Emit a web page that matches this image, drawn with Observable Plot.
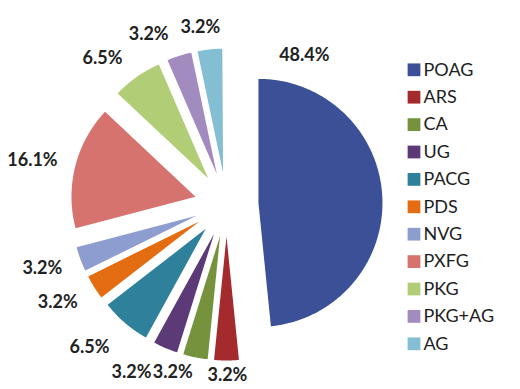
<!DOCTYPE html>
<html>
<head>
<meta charset="utf-8">
<script src="https://cdn.jsdelivr.net/npm/d3@7"></script>
<script src="https://cdn.jsdelivr.net/npm/@observablehq/plot@0.6"></script>
<style>
  html, body { margin: 0; padding: 0; background: #fff; }
  #chart { width: 520px; height: 389px; }
</style>
</head>
<body>
<div id="chart"></div>
<script>
// ---- data ----
const categories = ["POAG", "ARS", "CA", "UG", "PACG", "PDS", "NVG", "PXFG", "PKG", "PKG+AG", "AG"];
const percents   = [48.4, 3.2, 3.2, 3.2, 6.5, 3.2, 3.2, 16.1, 6.5, 3.2, 3.2];
const labels     = ["48.4%", "3.2%", "3.2%", "3.2%", "6.5%", "3.2%", "3.2%", "16.1%", "6.5%", "3.2%", "3.2%"];

// ---- style / layout ----
const colors = ["#3B5096", "#A52A2D", "#76923C", "#5C3A78", "#2F809A", "#E46C12", "#8E9DCF", "#D6736F", "#B1CD76", "#A28BBE", "#84BED3"];
const W = 520, H = 389;
const CX = 226, CY = 204;           // pie centre in pixels
const R = 124, EXPLODE = 32;        // radius and explode offset
// label placement (polar around centre): angle in degrees clockwise from top, radius in px
const labelAngle  = [27.6, 179.7, 197.8, 209.5, 223.8, 239.9, 250.8, 282.8, 319.8, 335.4, 351.6];
const labelRadius = [168, 171, 176, 193, 198, 195, 195, 199, 192, 187, 179];
const legendX = 413.5, legendTextX = 423, legendTop = 69.3, legendStep = 27.4;

// data coordinates: origin at pie centre, y up
const px = (x) => x - CX;
const py = (y) => CY - y;
const toRad = Math.PI / 180;

const total = d3.sum(percents);
const arcs = d3.pie().sort(null).value(d => d)
  .startAngle(0).endAngle(2 * Math.PI * total / 100)(percents);

// slice outlines
const slicePts = [];
arcs.forEach((a, i) => {
  const mid = (a.startAngle + a.endAngle) / 2;
  const ox = EXPLODE * Math.sin(mid), oy = EXPLODE * Math.cos(mid);
  slicePts.push({cat: categories[i], x: ox, y: oy});
  const steps = Math.max(2, Math.ceil((a.endAngle - a.startAngle) / (0.5 * toRad)));
  for (let k = 0; k <= steps; k++) {
    const t = a.startAngle + (a.endAngle - a.startAngle) * k / steps;
    slicePts.push({cat: categories[i], x: ox + R * Math.sin(t), y: oy + R * Math.cos(t)});
  }
});

const labelData = categories.map((c, i) => ({
  cat: c,
  text: labels[i],
  x: labelRadius[i] * Math.sin(labelAngle[i] * toRad),
  y: labelRadius[i] * Math.cos(labelAngle[i] * toRad)
}));

const legendData = categories.map((c, i) => ({
  cat: c,
  x: px(legendX),
  tx: px(legendTextX),
  y: py(legendTop + i * legendStep)
}));

const chart = Plot.plot({
  width: W,
  height: H,
  margin: 0,
  x: {domain: [px(0), px(W)], axis: null},
  y: {domain: [py(H), py(0)], axis: null},
  color: {domain: categories, range: colors},
  style: {background: "#fff", fontFamily: "Lato, sans-serif", overflow: "visible"},
  marks: [
    Plot.line(slicePts, {x: "x", y: "y", z: "cat", fill: "cat", stroke: "none", curve: "linear-closed"}),
    Plot.text(labelData, {x: "x", y: "y", text: "text", fill: "#222", fontSize: 18, fontWeight: "bold",
      fontFamily: "Lato", textAnchor: "middle", lineAnchor: "middle"}),
    Plot.dot(legendData, {x: "x", y: "y", fill: "cat", symbol: "square", r: 7.2, stroke: "none"}),
    Plot.text(legendData, {x: "tx", y: "y", text: "cat", fill: "#1e1e1e", fontSize: 18,
      fontFamily: "Lato", textAnchor: "start", lineAnchor: "middle"})
  ]
});
document.getElementById("chart").appendChild(chart);
</script>
</body>
</html>
